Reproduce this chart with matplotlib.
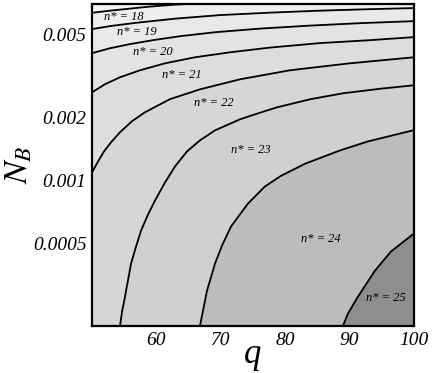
import numpy as np
import matplotlib
matplotlib.use('Agg')
import matplotlib.pyplot as plt

# boundary curves between n* regions (q, N_B)
q_17_18 = [50.0, 52.80, 55.90, 59.01, 62.89, 64.44, 66.0]
nb_17_18 = [0.00636, 0.00651, 0.00666, 0.00681, 0.00696, 0.00700, 0.00705]

q_18_19 = [50.0, 52.80, 56.99, 62.89, 69.88, 77.64, 85.40, 93.17, 100.0]
nb_18_19 = [0.00531, 0.00549, 0.00570, 0.00596, 0.00620, 0.00637, 0.00651, 0.00662, 0.00670]

q_19_20 = [50.0, 52.80, 55.90, 59.47, 63.66, 69.10, 76.09, 83.85, 91.61, 100.0]
nb_19_20 = [0.00407, 0.00430, 0.00450, 0.00470, 0.00491, 0.00513, 0.00534, 0.00552, 0.00567, 0.00580]

q_20_21 = [50.0, 52.02, 54.35, 57.45, 61.34, 65.99, 71.43, 77.64, 85.40, 93.17, 100.0]
nb_20_21 = [0.00264, 0.00289, 0.00312, 0.00337, 0.00364, 0.00389, 0.00411, 0.00433, 0.00455, 0.00470, 0.00486]

q_21_22 = [50.0, 50.93, 51.86, 52.95, 54.35, 56.21, 58.23, 62.11, 66.77, 72.98, 80.75, 90.06, 100.0]
nb_21_22 = [0.00109, 0.00123, 0.001375, 0.00152, 0.00170, 0.00192, 0.00212, 0.00245, 0.00273, 0.00305, 0.00337, 0.00364, 0.00389]

q_22_23 = [54.35, 54.66, 55.12, 56.06, 56.83, 57.61, 58.70, 59.78, 61.34, 62.89, 64.75, 66.77,
           69.10, 72.98, 75.78, 78.73, 83.85, 88.98, 94.72, 100.0]
nb_22_23 = [0.00020, 0.000234, 0.000276, 0.000398, 0.000480, 0.000573, 0.000685, 0.000799, 0.000976,
            0.001165, 0.001375, 0.001554, 0.001735, 0.00196, 0.002094, 0.002238, 0.002446, 0.002614,
            0.002747, 0.002856]

q_23_24 = [66.77, 67.24, 67.86, 69.10, 70.19, 71.58, 74.22, 76.86, 79.35, 83.07, 88.51, 92.86, 100.0]
nb_23_24 = [0.00020, 0.000237, 0.000295, 0.000398, 0.000486, 0.000599, 0.000773, 0.000934, 0.00105,
            0.00120, 0.00139, 0.001536, 0.00174]

q_24_25 = [88.98, 89.75, 91.30, 93.94, 96.43, 100.0]
nb_24_25 = [0.00020, 0.000229, 0.000276, 0.000368, 0.000455, 0.000555]

boundaries = [(q_17_18, nb_17_18), (q_18_19, nb_18_19), (q_19_20, nb_19_20),
              (q_20_21, nb_20_21), (q_21_22, nb_21_22), (q_22_23, nb_22_23),
              (q_23_24, nb_23_24), (q_24_25, nb_24_25)]

# region labels
label_n = [18, 19, 20, 21, 22, 23, 24, 25]
label_q = [55.0, 56.99, 59.47, 63.98, 68.94, 74.69, 85.56, 95.65]
label_nb = [0.00610, 0.00513, 0.00411, 0.00319, 0.00234, 0.00139, 0.000525, 0.000273]

# fill colours, region 17 (background) then 18..25
region_colors = ['#f3f3f3', '#eeeeee', '#e9e9e9', '#e3e3e3', '#dddddd',
                 '#d6d6d6', '#d0d0d0', '#bcbcbc', '#8e8e8e']

qmin, qmax = 50, 100
nbmin, nbmax = 0.0002, 0.007

serif = ['Liberation Serif', 'DejaVu Serif']
plt.rcParams['mathtext.fontset'] = 'stix'

fig = plt.figure(figsize=(4.32, 3.73), dpi=100)
ax = fig.add_axes([0.213, 0.126, 0.745, 0.863])
ax.set_yscale('log')
ax.set_facecolor(region_colors[0])

for (qs, ns), col in zip(boundaries, region_colors[1:]):
	qs = list(qs)
	ns = list(ns)
	right_n = ns[-1] if qs[-1] >= qmax else nbmax * 1.05
	px = qs + [qmax, qmax, qmin]
	py = ns + [right_n, nbmin * 0.9, nbmin * 0.9]
	ax.fill(px, py, color=col, lw=0, zorder=1)

for qs, ns in boundaries:
	ax.plot(qs, ns, color='k', lw=1.3, zorder=2, solid_joinstyle='round')

for n, lq, lnb in zip(label_n, label_q, label_nb):
	ax.text(lq, lnb, 'n* = %i' % n, ha='center', va='center', fontsize=9,
	        style='italic', family=serif, zorder=3)

ax.set_xlim([qmin, qmax])
ax.set_ylim([nbmin, nbmax])

ax.set_xticks([60, 70, 80, 90, 100])
ax.set_xticklabels(['60', '70', '80', '90', '100'])
ax.set_yticks([0.0005, 0.001, 0.002, 0.005])
ax.set_yticklabels(['0.0005', '0.001', '0.002', '0.005'])
ax.minorticks_off()
ax.tick_params(length=0, pad=4)
for lab in ax.get_xticklabels() + ax.get_yticklabels():
	lab.set_fontfamily(serif)
	lab.set_fontstyle('italic')
	lab.set_fontsize(14)

for sp in ax.spines.values():
	sp.set_linewidth(1.6)
	sp.set_zorder(4)

xl = ax.set_xlabel('q', family=serif, style='italic', fontsize=25)
xl.set_va('baseline')
ax.xaxis.set_label_coords(0.5, -0.115)
ax.set_ylabel('$N_B$', fontsize=24)
ax.yaxis.set_label_coords(-0.18, 0.5)

fig.savefig('out.png', dpi=100)
